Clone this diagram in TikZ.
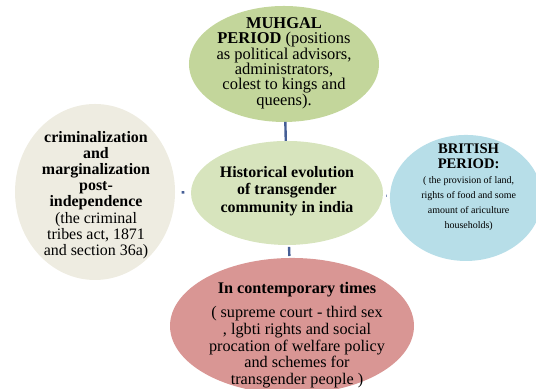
\documentclass[tikz,border=0pt]{standalone}
\usepackage{fontspec}
\setmainfont{Liberation Serif}
\usepackage{tikz}
\usepackage{xcolor}
\usetikzlibrary{shapes.geometric}
\definecolor{mughalgreen}{RGB}{195,214,155}
\definecolor{centregreen}{RGB}{215,228,189}
\definecolor{stonegrey}{RGB}{238,236,225}
\definecolor{skyblue}{RGB}{183,222,232}
\definecolor{rosered}{RGB}{217,150,148}
\definecolor{linkblue}{RGB}{70,95,150}

\begin{document}
\begin{tikzpicture}[
  bubble/.style={ellipse,inner sep=0pt,outer sep=0pt},  txt/.style={align=center,inner sep=0pt,text=black},  link/.style={draw=linkblue,line width=1.8pt}
]
  \useasboundingbox (0,0) rectangle (14.182,10.292);
  \node[bubble,fill=mughalgreen,minimum width=5.027cm,minimum height=3.069cm] (muhgal) at (7.514,8.599) {};
  \node[bubble,fill=centregreen,minimum width=5.080cm,minimum height=2.752cm] (hist) at (7.594,5.186) {};
  \node[bubble,fill=stonegrey,minimum width=4.233cm,minimum height=4.657cm] (crim) at (2.514,5.212) {};
  \node[bubble,fill=skyblue,minimum width=4.022cm,minimum height=3.334cm] (brit) at (12.329,5.054) {};
  \node[bubble,fill=rosered,minimum width=6.456cm,minimum height=3.598cm] (modern) at (7.726,1.667) {};
  \node[txt,font=\fontsize{12.4}{11.6}\selectfont] (muhgaltxt) at (7.514,8.620) {\textbf{MUHGAL}\\\textbf{PERIOD} (positions\\as political advisors,\\administrators,\\colest to kings and\\queens).};
  \node[txt,font=\fontsize{12}{13.1}\selectfont\bfseries] (histtxt) at (7.594,5.239) {Historical evolution\\of transgender\\community in india};
  \node[txt,font=\fontsize{12}{12.2}\selectfont] (crimtxt) at (2.540,5.133) {\textbf{criminalization}\\\textbf{and}\\\textbf{marginalization}\\\textbf{post-}\\\textbf{independence}\\(the criminal\\tribes act, 1871\\and section 36a)};
  \node[txt,font=\fontsize{7.5}{11.25}\selectfont] (brittxt) at (12.400,5.345) {{\fontsize{11}{10}\selectfont\bfseries BRITISH}\\{\fontsize{11}{10}\selectfont\bfseries PERIOD:}\\( the provision of land,\\rights of food and some\\amount of ariculture\\households)};
  \node[txt,font=\fontsize{12.2}{12.5}\selectfont] (moderntxt) at (7.858,1.429) {\textbf{In contemporary times}\\[6pt]( supreme court - third sex\\, lgbti rights and social\\procation of welfare policy\\and schemes for\\transgender people )};
  \draw[link] (muhgal) -- (hist);
  \draw[link,shorten <=5pt,shorten >=5pt] (hist) -- (crim);
  \draw[link,shorten <=2.5pt,shorten >=2.5pt] (hist) -- (brit);
  \draw[link,shorten <=1.5pt,shorten >=1.5pt] (hist) -- (modern);
\end{tikzpicture}
\end{document}
